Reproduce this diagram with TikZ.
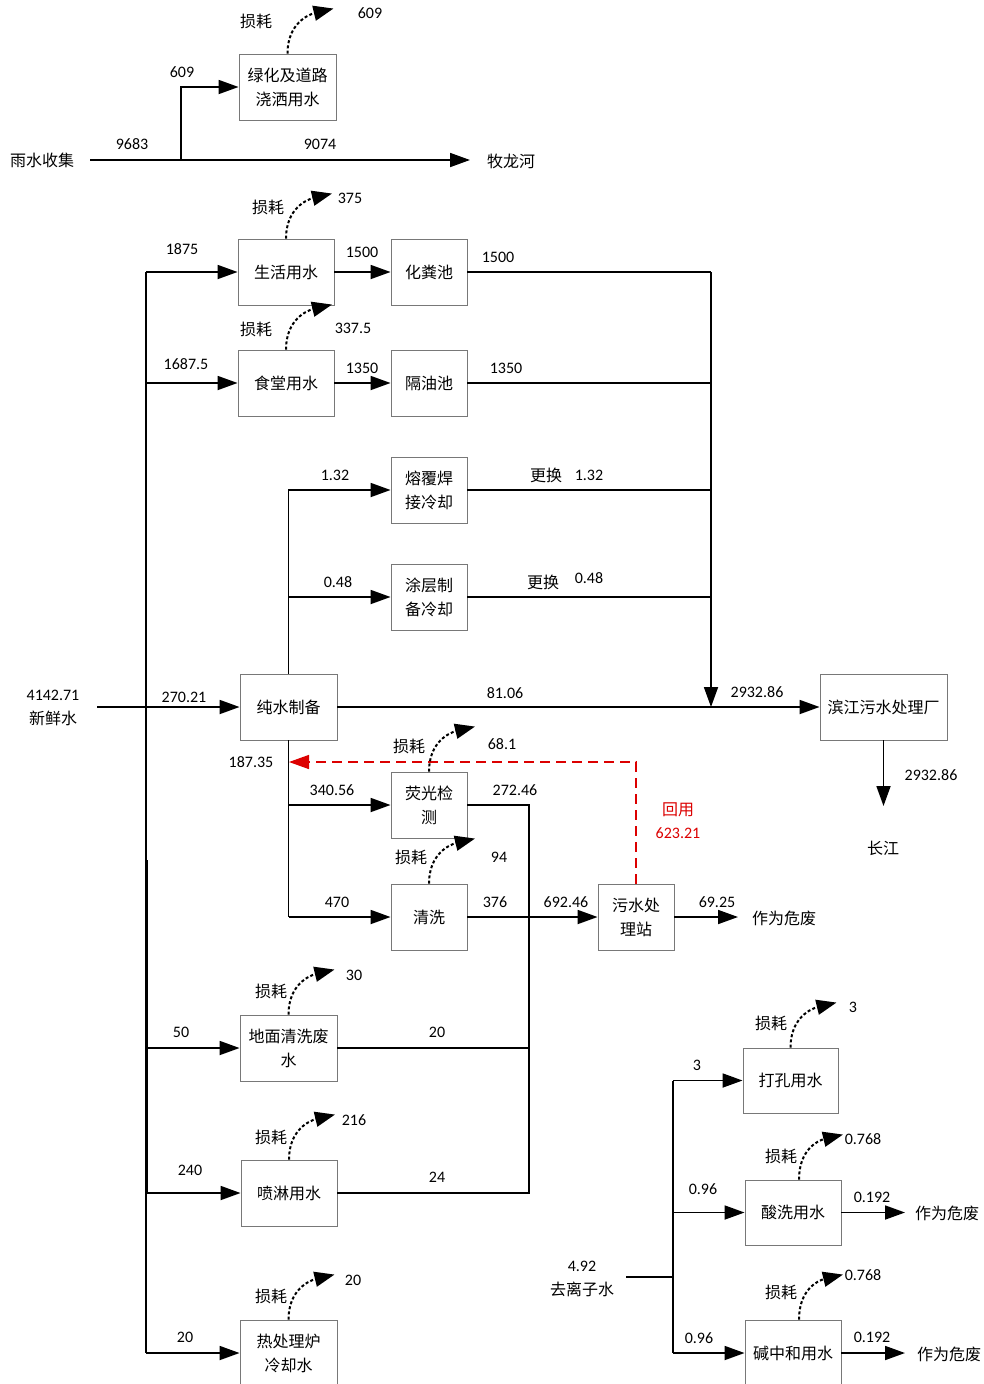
\documentclass[tikz,border=0pt]{standalone}
\usepackage{fontspec}
\setmainfont{Carlito}
\newfontfamily\cjk{Noto Sans CJK SC}
\usetikzlibrary{arrows.meta,calc}
\definecolor{boxgray}{RGB}{120,120,120}
\definecolor{reuse}{RGB}{220,0,0}
\begin{document}
\begin{tikzpicture}[x=1pt,y=-1pt,
  box/.style={draw=boxgray,line width=0.9pt,fill=white,minimum width=96pt,minimum height=66pt,inner sep=1pt,align=center,font=\cjk\fontsize{16}{24}\selectfont},
  sbox/.style={box,minimum width=76pt},
  cn/.style={font=\cjk\fontsize{16}{20}\selectfont,inner sep=0pt},
  num/.style={font=\fontsize{16}{18}\selectfont,inner sep=0pt},
  flow/.style={line width=1.8pt,-{Triangle[length=20pt,width=14pt]}},
  pipe/.style={line width=1.8pt},
  loss/.style={line width=2pt,dash pattern=on 3pt off 2.2pt,-{Triangle[length=20pt,width=15pt]}},
  reuseline/.style={draw=reuse,line width=1.5pt,dash pattern=on 10pt off 6pt,-{Triangle[length=20pt,width=14pt,fill=reuse]}},
]
\useasboundingbox[fill=white] (0,0) rectangle (984,1384);

% ---------- boxes ----------
\node[box,minimum width=97pt] (lh) at (287.5,87) {绿化及道路\\浇洒用水};
\node[box] (sh) at (286,272) {生活用水};
\node[sbox] (hf) at (429,272) {化粪池};
\node[box] (st) at (286,383) {食堂用水};
\node[sbox] (gy) at (429,383) {隔油池};
\node[sbox] (rf) at (429,490) {熔覆焊\\接冷却};
\node[sbox] (tc) at (429,597) {涂层制\\备冷却};
\node[box,minimum width=97pt] (cs) at (288.5,707) {纯水制备};
\node[box,minimum width=127pt] (bj) at (883.5,707) {滨江污水处理厂};
\node[sbox] (yg) at (429,805) {荧光检\\测};
\node[sbox] (qx) at (429,917) {清洗};
\node[sbox] (ws) at (636,917) {污水处\\理站};
\node[box,minimum width=97pt] (dm) at (288.5,1048) {地面清洗废\\水};
\node[box] (pl) at (289,1193) {喷淋用水};
\node[box,minimum width=97pt] (rc) at (288.5,1353) {热处理炉\\冷却水};
\node[box,minimum width=95pt,minimum height=65pt] (dk) at (790.5,1080.5) {打孔用水};
\node[box,minimum height=65pt] (sx) at (793,1212.5) {酸洗用水};
\node[box] (jz) at (793,1353) {碱中和用水};

% ---------- rain water ----------
\node[cn] (yszj) at (42,160) {雨水收集};
\node[cn] (mlh) at (511,161) {牧龙河};
\coordinate (rs) at (90,160);
\coordinate (rj) at (181,160);
\coordinate (re) at (470,160);
\draw[pipe] (rs) -- (rj);
\draw[flow] (rj) -- (re);
\draw[flow] (rj) |- (lh.west);
\node[num] (n9683) at (132,144) {9683};
\node[num] (n609a) at (182,72) {609};
\node[num] (n9074) at (320,144) {9074};

% ---------- main bus ----------
\coordinate (bt) at (146,272);
\coordinate (bb) at (146,1353);
\draw[pipe] (bt) -- (bb);
\coordinate (bd1) at (147,860);
\coordinate (bd2) at (147,1193);
\draw[pipe] (bd1) -- (bd2);
\draw[flow] (bt) -- (sh.west);
\draw[flow] (bt |- st.west) -- (st.west);
\draw[flow] (bt |- dm.west) -- (dm.west);
\draw[flow] (bt |- pl.west) -- (pl.west);
\draw[flow] (bb) -- (rc.west);
\node[num] (n1875) at (182,249) {1875};
\node[num] (n1687) at (186,364) {1687.5};
\node[num] (n50) at (181,1032) {50};
\node[num] (n240) at (190,1170) {240};
\node[num] (n20b) at (185,1337) {20};

\draw[flow] (sh.east) -- (hf.west);
\draw[flow] (st.east) -- (gy.west);
\node[num] (n1500a) at (362,252) {1500};
\node[num] (n1350a) at (362,368) {1350};

% right collector
\coordinate (cx) at (711,272);
\draw[pipe] (hf.east) -- (cx);
\draw[pipe] (gy.east) -- (cx |- gy.east);
\draw[pipe] (rf.east) -- (cx |- rf.east);
\draw[pipe] (tc.east) -- (cx |- tc.east);
\draw[flow] (cx) -- (cx |- cs.east);
\node[num] (n1500b) at (498,257) {1500};
\node[num] (n1350b) at (506,368) {1350};
\node[cn] (gh1) at (546,475) {更换};
\node[num] (n132b) at (589,475) {1.32};
\node[cn] (gh2) at (543,582) {更换};
\node[num] (n048b) at (589,578) {0.48};

% fresh water
\coordinate (fw) at (97,707);
\draw[flow] (fw) -- (cs.west);
\node[num] (n4142) at (53,695) {4142.71};
\node[cn] (xxs) at (53,718) {新鲜水};
\node[num] (n270) at (184,697) {270.21};

\draw[flow] (cs.north) |- (rf.west);
\draw[flow] (cs.north |- tc.west) -- (tc.west);
\node[num] (n132a) at (335,475) {1.32};
\node[num] (n048a) at (338,582) {0.48};

\draw[flow] (cs.east) -- (bj.west);
\node[num] (n8106) at (505,693) {81.06};
\node[num] (n2932a) at (757,692) {2932.86};
\coordinate (cj) at (883.5,806);
\draw[flow] (bj.south) -- (cj);
\node[num] (n2932b) at (931,775) {2932.86};
\node[cn] (cjt) at (883,848) {长江};

% pure water down
\draw[pipe] (cs.south) -- (cs.south |- qx.west);
\draw[flow] (cs.south |- yg.west) -- (yg.west);
\draw[flow] (cs.south |- qx.west) -- (qx.west);
\node[num] (n187) at (251,762) {187.35};
\node[num] (n340) at (332,790) {340.56};
\node[num] (n470) at (337,902) {470};

% reuse
\coordinate (rr) at (289,762);
\draw[reuseline] (ws.north) |- (rr);
\node[cn,text=reuse] (hy) at (678,810) {回用};
\node[num,text=reuse] (n623) at (678,833) {623.21};

% second collector
\coordinate (c2) at (529,805);
\draw[pipe] (yg.east) -- (c2) -- (c2 |- pl.east) -- (pl.east);
\draw[pipe] (dm.east) -- (c2 |- dm.east);
\draw[flow] (qx.east) -- (ws.west);
\coordinate (wso) at (738,917);
\draw[flow] (ws.east) -- (wso);
\node[num] (n272) at (515,790) {272.46};
\node[num] (n376) at (495,902) {376};
\node[num] (n692) at (566,902) {692.46};
\node[num] (n20a) at (437,1032) {20};
\node[num] (n24) at (437,1177) {24};
\node[num] (n6925) at (717,902) {69.25};
\node[cn] (wf1) at (784,918) {作为危废};

% deionised water
\node[num] (n492) at (582,1266) {4.92};
\node[cn] (qlzs) at (582,1289) {去离子水};
\coordinate (di) at (626,1277);
\coordinate (dj) at (673,1277);
\draw[pipe] (di) -- (dj);
\draw[pipe] (dj |- dk.west) -- (dj |- jz.west);
\draw[flow] (dj |- dk.west) -- (dk.west);
\draw[flow] (dj |- sx.west) -- (sx.west);
\draw[flow] (dj |- jz.west) -- (jz.west);
\node[num] (n3a) at (697,1065) {3};
\node[num] (n096a) at (703,1189) {0.96};
\node[num] (n096b) at (699,1338) {0.96};
\coordinate (sxo) at (905,1212.5);
\coordinate (jzo) at (905,1353);
\draw[flow] (sx.east) -- (sxo);
\draw[flow] (jz.east) -- (jzo);
\node[num] (n192a) at (872,1197) {0.192};
\node[num] (n192b) at (872,1337) {0.192};
\node[cn] (wf2) at (947,1213) {作为危废};
\node[cn] (wf3) at (949,1354) {作为危废};

% ---------- losses ----------
\foreach \b/\lx/\ly/\vx/\vy/\v in {lh/256/21/370/13/609, sh/268/207/350/198/375, st/256/329/353/328/337.5, yg/409/746/502/744/68.1, qx/411/857/499/857/94, dm/271/991/354/975/30, pl/271/1137/354/1120/216, rc/271/1296/353/1280/20, dk/771/1023/853/1007/3}{
  \draw[loss] (\b.north) .. controls +(0,-30) and +(-25,6) .. +(46,-45);
  \node[cn] (ls-\b) at (\lx,\ly) {损耗};
  \node[num] (lv-\b) at (\vx,\vy) {\v};
}
\foreach \b/\lx/\ly/\vx/\vy/\v in {sx/781/1156/863/1139/0.768, jz/781/1292/863/1275/0.768}{
  \coordinate (st-\b) at ($(\b.north)+(6,0)$);
  \draw[loss] (st-\b) .. controls +(0,-30) and +(-25,6) .. +(44,-45);
  \node[cn] (ls-\b) at (\lx,\ly) {损耗};
  \node[num] (lv-\b) at (\vx,\vy) {\v};
}
\end{tikzpicture}
\end{document}
